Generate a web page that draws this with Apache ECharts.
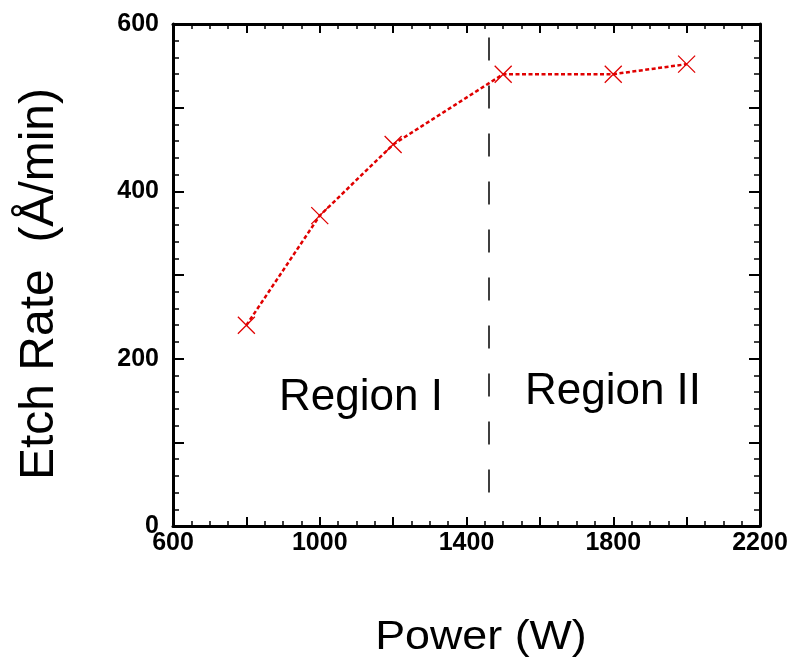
<!DOCTYPE html>
<html>
<head>
<meta charset="utf-8">
<script src="https://cdn.jsdelivr.net/npm/echarts@6/dist/echarts.min.js"></script>
<style>
html,body{margin:0;padding:0;background:#fff;}
#chart{width:796px;height:666px;}
</style>
</head>
<body>
<div id="chart"></div>
<script>
// Data
const powerW = [800, 1000, 1200, 1500, 1800, 2000];
const etchRate = [240, 371, 456, 540, 540, 552];
const boundaryPower = 1460;
const boundaryRange = [40, 587];
const regionLabels = ['Region I', 'Region II'];
const xTitle = 'Power (W)';
const yTitle = 'Etch Rate  (Å/min)';

const RED = '#e00000';
const tickFont = "'Liberation Sans',Arial,sans-serif";
const textFont = "'Liberation Sans',Arial,sans-serif";

const chart = echarts.init(document.getElementById('chart'), null, {renderer: 'canvas'});

function xAxisBase(pos, showLabel) {
  return {
    type: 'value', position: pos, min: 600, max: 2200, interval: 200,
    axisLine: {show: true, onZero: false, lineStyle: {color: '#000', width: 3}},
    axisTick: {show: true, inside: true, length: 9, lineStyle: {color: '#000', width: 2}},
    minorTick: {show: true, splitNumber: 4, length: 5, lineStyle: {color: '#000', width: 1.5}},
    splitLine: {show: false}, minorSplitLine: {show: false},
    axisLabel: {
      show: showLabel, margin: 5, color: '#000', fontFamily: tickFont, fontWeight: 'bold', fontSize: 25,
      showMinLabel: true, showMaxLabel: true,
      formatter: v => (v % 400 === 200 ? String(v) : '')
    }
  };
}
function yAxisBase(pos, showLabel) {
  return {
    type: 'value', position: pos, min: 0, max: 600, interval: 100,
    axisLine: {show: true, onZero: false, lineStyle: {color: '#000', width: 3}},
    axisTick: {show: true, inside: true, length: 11, lineStyle: {color: '#000', width: 2}},
    minorTick: {show: true, splitNumber: 5, length: 6, lineStyle: {color: '#000', width: 1.5}},
    splitLine: {show: false}, minorSplitLine: {show: false},
    axisLabel: {
      show: showLabel, margin: 14, color: '#000', fontFamily: tickFont, fontWeight: 'bold', fontSize: 25,
      showMinLabel: true, showMaxLabel: true,
      formatter: v => (v % 200 === 0 ? String(v) : '')
    }
  };
}

const option = {
  backgroundColor: '#fff',
  animation: false,
  grid: {left: 173, top: 24, right: 36, bottom: 140, containLabel: false},
  xAxis: [xAxisBase('bottom', true), xAxisBase('top', false)],
  yAxis: [yAxisBase('left', true), yAxisBase('right', false)],
  series: [{
    type: 'line',
    xAxisIndex: 0, yAxisIndex: 0,
    data: powerW.map((p, i) => [p, etchRate[i]]),
    smooth: false,
    lineStyle: {color: RED, width: 2.5, type: [4, 2.5]},
    symbol: 'path://M0,0L10,10M10,0L0,10',
    symbolSize: 17,
    itemStyle: {color: 'rgba(0,0,0,0)', borderColor: RED, borderWidth: 1.3},
    z: 3,
    markLine: {
      silent: true,
      symbol: ['none', 'none'],
      label: {show: false},
      lineStyle: {color: '#000', width: 1.5, type: [23, 25]},
      data: [[{coord: [boundaryPower, boundaryRange[0]]}, {coord: [boundaryPower, boundaryRange[1]]}]]
    }
  }],
  graphic: [
    {type: 'text', x: 361, y: 398, style: {text: regionLabels[0], x: 0, y: 0, align: 'center', verticalAlign: 'middle', font: '44px ' + textFont, fill: '#000'}},
    {type: 'text', x: 613, y: 392, style: {text: regionLabels[1], x: 0, y: 0, align: 'center', verticalAlign: 'middle', font: '44px ' + textFont, fill: '#000'}},
    {type: 'text', x: 481, y: 638, scaleX: 1.12, style: {text: xTitle, x: 0, y: 0, align: 'center', verticalAlign: 'middle', font: '40px ' + textFont, fill: '#000'}},
    {type: 'text', x: 40, y: 284, rotation: Math.PI / 2, style: {text: yTitle, x: 0, y: 0, align: 'center', verticalAlign: 'middle', font: '48px ' + textFont, fill: '#000'}}
  ]
};
chart.setOption(option);
</script>
</body>
</html>
